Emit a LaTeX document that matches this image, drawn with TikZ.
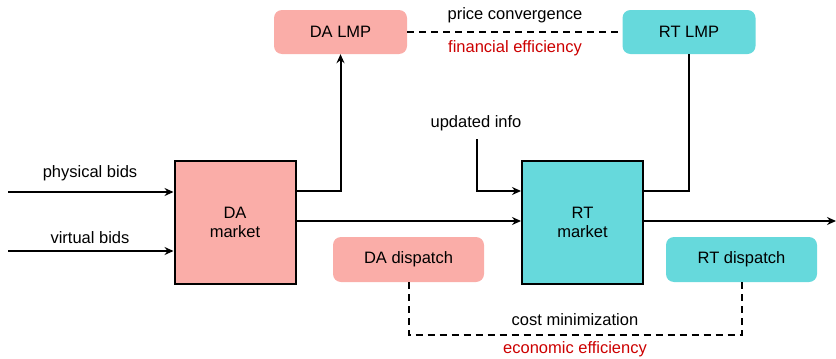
\documentclass[tikz,border=0pt]{standalone}
\usepackage{fontspec}
\setmainfont{Liberation Sans}
\usetikzlibrary{arrows.meta,positioning}
\definecolor{dared}{HTML}{FAADA8}
\definecolor{rtcyan}{HTML}{66D9DC}
\definecolor{effred}{HTML}{CC0000}
\tikzset{
  x=1pt,y=-1pt,
  every node/.style={font=\fontsize{16.5}{19}\selectfont, inner sep=0pt},
  lmpbox/.style={rounded corners=8pt, minimum width=133pt, minimum height=44pt},
  mktbox/.style={draw=black, line width=2pt, minimum width=121pt, minimum height=123pt, align=center},
  dispbox/.style={rounded corners=8pt, minimum width=151pt, minimum height=45pt},
  conn/.style={line width=2pt},
  arr/.style={conn, -{Stealth[length=9pt,width=8pt,inset=3pt]}},
  dashline/.style={conn, dash pattern=on 7pt off 5pt},
  lbl/.style={text=black},
  eff/.style={text=effred}
}
\begin{document}
\begin{tikzpicture}
\useasboundingbox (0,0) rectangle (836,359);
% boxes
\node[lmpbox, fill=dared] (dalmp) at (340.5,32) {DA LMP};
\node[lmpbox, fill=rtcyan] (rtlmp) at (689,32) {RT LMP};
\node[mktbox, fill=dared] (damkt) at (235,222) {DA\\market};
\node[mktbox, fill=rtcyan] (rtmkt) at (582.5,222) {RT\\market};
\node[dispbox, fill=dared] (dadisp) at (408.5,259.5) {DA dispatch};
\node[dispbox, fill=rtcyan] (rtdisp) at (741.5,259.5) {RT dispatch};
% labels
\node[lbl] (pc) at (515,15) {price convergence};
\node[eff] (fe) at (515,48) {financial efficiency};
\node[lbl] (phys) at (90,173) {physical bids};
\node[lbl] (virt) at (90,238) {virtual bids};
\node[lbl] (upd) at (476,123) {updated info};
\node[lbl] (cm) at (575,320) {cost minimization};
\node[eff] (ee) at (575,349) {economic efficiency};
% free ends
\coordinate (physin) at (8,192);
\coordinate (virtin) at (8,251);
\coordinate (updin) at (477,139);
\coordinate (rtout) at (836,221);
% connectors
\draw[arr] (physin) -- (physin -| damkt.west);
\draw[arr] (virtin) -- (virtin -| damkt.west);
\draw[arr] (damkt.east |- 0,191) -| (dalmp.south);
\draw[arr] (damkt.east |- 0,221) -- (rtmkt.west |- 0,221);
\draw[arr] (updin) |- (rtmkt.west |- 0,191);
\draw[conn] (rtmkt.east |- 0,191) -| (rtlmp.south);
\draw[arr] (rtmkt.east |- 0,221) -- (rtout);
\draw[dashline] (dalmp.east) -- (rtlmp.west);
\draw[dashline] (dadisp.south) -- (dadisp.south |- 0,335) -| (rtdisp.south);
\end{tikzpicture}
\end{document}
